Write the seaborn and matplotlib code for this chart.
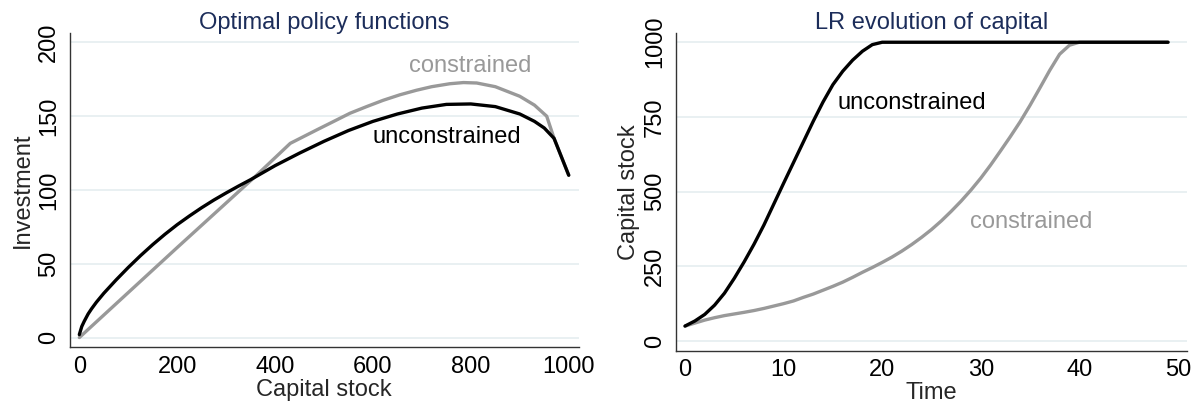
import matplotlib
matplotlib.use("Agg")
import matplotlib.pyplot as plt
import seaborn as sns

# =====================================================
# DATA
# =====================================================

# left panel: policy functions
capital_unc = [0, 5, 10, 18, 25, 35, 50, 75, 100, 125, 150, 175, 200, 225, 250,
               275, 300, 325, 350, 400, 450, 500, 550, 600, 650, 700, 750, 800,
               850, 900, 930, 950, 970, 1000]
invest_unc = [2, 7.5, 11, 16, 19.5, 24, 30, 39, 47.5, 55.5, 63, 70, 76.5, 82.4,
              88, 93.2, 98, 102.6, 107, 116.5, 125, 133, 140.3, 146.5, 151.5,
              155.5, 158, 158.3, 156.5, 151.5, 146.5, 142, 135, 110]

capital_con = [0, 200, 359, 431, 485, 520, 553, 587, 621, 655, 689, 720, 757,
               785, 812, 850, 900, 930, 955, 970, 1000]
invest_con = [0, 61, 109, 131.6, 140.7, 146.5, 152, 156.5, 160.8, 164.5, 167.6,
              170, 172, 172.8, 172.5, 170, 163.5, 157.5, 150, 135, 110]

# right panel: long-run path of capital
time = list(range(50))
k_unc = [50, 67, 89, 120, 160, 210, 265, 324, 388, 458, 528, 597, 666, 735, 800,
         858, 903, 940, 970, 992] + [1000] * 30
k_con = [50, 60, 70, 78, 85, 90.5, 96, 102, 109, 117, 125, 134, 146, 157, 170,
         183, 197, 213, 230, 246, 263, 281, 301, 323, 347, 373, 402, 434, 468,
         505, 545, 589, 636, 684, 734, 789, 847, 906, 960, 990] + [1000] * 10

# =====================================================
# STYLE
# =====================================================

sns.set_style("white")
plt.rcParams["font.family"] = ["Liberation Sans", "DejaVu Sans"]

BLACK = "#000000"
GREY = "#999999"
NAVY = "#1c2d5a"
GRID = "#e5eef0"
FS = 17

fig = plt.figure(figsize=(11.99, 4.07), dpi=100)
ax1 = fig.add_axes([0.0584, 0.1467, 0.4241, 0.773])
ax2 = fig.add_axes([0.5636, 0.1383, 0.4262, 0.7814])


def style_axis(ax):
    for side in ["top", "right"]:
        ax.spines[side].set_visible(False)
    for side in ["left", "bottom"]:
        ax.spines[side].set_color("#333333")
        ax.spines[side].set_linewidth(1.0)
    ax.tick_params(axis="both", direction="out", length=4.5, width=1.0,
                   color="#333333", labelsize=FS, labelcolor="black")
    ax.tick_params(axis="y", labelrotation=90, pad=2.5)
    ax.tick_params(axis="x", pad=1.5)
    for lab in ax.get_yticklabels():
        lab.set_va("center")
    ax.yaxis.grid(True, color=GRID, linewidth=1.2)
    ax.xaxis.grid(False)
    ax.set_axisbelow(True)


# =====================================================
# LEFT PANEL
# =====================================================

sns.lineplot(x=capital_con, y=invest_con, ax=ax1, color=GREY, linewidth=2.4,
             sort=False)
sns.lineplot(x=capital_unc, y=invest_unc, ax=ax1, color=BLACK, linewidth=2.4,
             sort=False)
ax1.set_xlim(-19, 1020)
ax1.set_ylim(-6.6, 206.6)
ax1.set_xticks([0, 200, 400, 600, 800, 1000])
ax1.set_yticks([0, 50, 100, 150, 200])
style_axis(ax1)
ax1.set_xlabel("Capital stock", fontsize=FS, labelpad=1)
ax1.set_ylabel("Investment", fontsize=FS, labelpad=3)
ax1.set_title("Optimal policy functions", fontsize=FS, color=NAVY, pad=3)
ax1.text(798, 184, "constrained", color=GREY, fontsize=FS,
         ha="center", va="center")
ax1.text(750, 136, "unconstrained", color=BLACK, fontsize=FS,
         ha="center", va="center")

# =====================================================
# RIGHT PANEL
# =====================================================

sns.lineplot(x=time, y=k_con, ax=ax2, color=GREY, linewidth=2.4)
sns.lineplot(x=time, y=k_unc, ax=ax2, color=BLACK, linewidth=2.4)
ax2.set_xlim(-0.94, 50.9)
ax2.set_ylim(-32.5, 1032)
ax2.set_xticks([0, 10, 20, 30, 40, 50])
ax2.set_yticks([0, 250, 500, 750, 1000])
style_axis(ax2)
ax2.set_xlabel("Time", fontsize=FS, labelpad=1)
ax2.set_ylabel("Capital stock", fontsize=FS, labelpad=3)
ax2.set_title("LR evolution of capital", fontsize=FS, color=NAVY, pad=3)
ax2.text(23.0, 796, "unconstrained", color=BLACK, fontsize=FS,
         ha="center", va="center")
ax2.text(35.1, 399, "constrained", color=GREY, fontsize=FS,
         ha="center", va="center")

fig.savefig("out.png", dpi=100)
plt.close(fig)
